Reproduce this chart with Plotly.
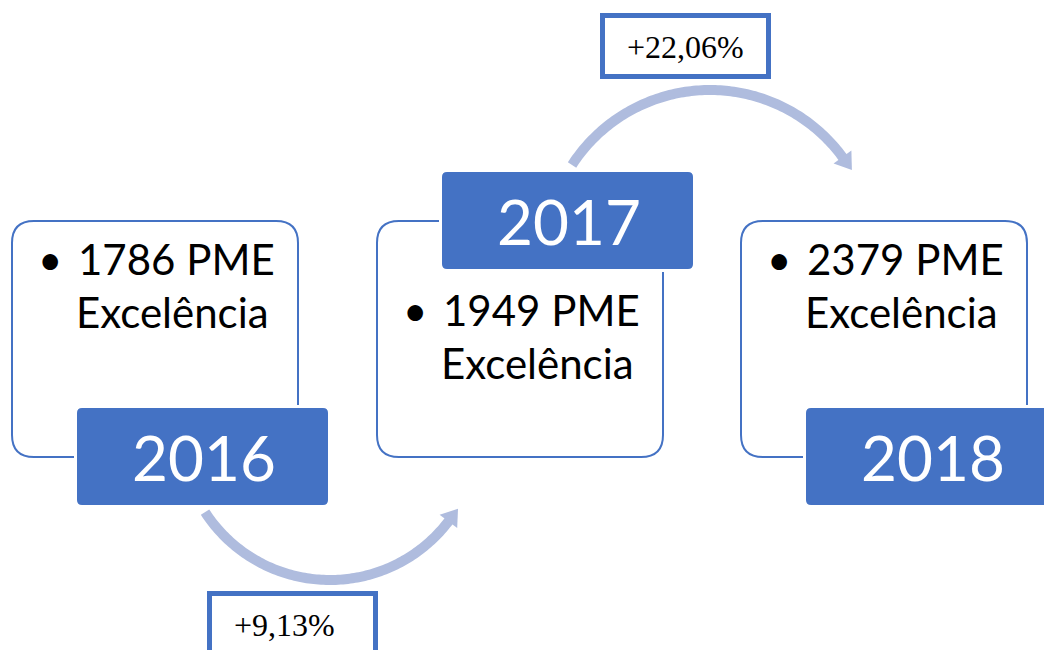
import numpy as np
import plotly.graph_objects as go

# ---- data ----
years = ["2016", "2017", "2018"]
pme_counts = [1786, 1949, 2379]
pme_label = "PME"
pme_suffix = "Excelência"
growth_labels = ["+9,13%", "+22,06%"]

# ---- layout constants ----
W, H = 1044, 650
BLUE = "#4472C4"
ARROW = "rgb(175,188,222)"
box_left = [12, 377, 741]
box_top, box_bot = 221, 457
box_w = 286
tab_w, tab_h, tab_dx = 251, 97, 65
tab_pos = ["bottom", "top", "bottom"]

fig = go.Figure()
shapes = []
annotations = []


def rrect(x0, y0, x1, y1, r):
    return (f"M{x0+r},{y0} L{x1-r},{y0} Q{x1},{y0} {x1},{y0+r} "
            f"L{x1},{y1-r} Q{x1},{y1} {x1-r},{y1} L{x0+r},{y1} "
            f"Q{x0},{y1} {x0},{y1-r} L{x0},{y0+r} Q{x0},{y0} {x0+r},{y0} Z")


def poly(pts):
    return "M" + " L".join(f"{px:.2f},{py:.2f}" for px, py in pts) + " Z"


# ---- curved arrows ----
arrows = [
    dict(c=(330, 431), r=149, a0=147, a1=37),
    dict(c=(710, 254.5), r=164.5, a0=-147, a1=-36),
]
half = 5
for a in arrows:
    th = np.radians(np.linspace(a["a0"], a["a1"], 120))
    cx, cy = a["c"]
    outer = [(cx + (a["r"] + half) * np.cos(t), cy + (a["r"] + half) * np.sin(t)) for t in th]
    inner = [(cx + (a["r"] - half) * np.cos(t), cy + (a["r"] - half) * np.sin(t)) for t in th[::-1]]
    shapes.append(dict(type="path", xref="x", yref="y", path=poly(outer + inner),
                       fillcolor=ARROW, line=dict(width=0), layer="above"))
    t1 = th[-1]
    sgn = np.sign(a["a1"] - a["a0"])
    d = sgn * np.array([-np.sin(t1), np.cos(t1)])
    nrm = np.array([np.cos(t1), np.sin(t1)])
    base = np.array([cx + a["r"] * np.cos(t1), cy + a["r"] * np.sin(t1)]) - 1.0 * d
    tip = base + 16 * d
    w1 = base + 11 * nrm
    w2 = base - 11 * nrm
    shapes.append(dict(type="path", xref="x", yref="y",
                       path=poly([tip, w1, w2]),
                       fillcolor=ARROW, line=dict(width=0), layer="above"))

# ---- boxes ----
for i, (yr, cnt) in enumerate(zip(years, pme_counts)):
    x0 = box_left[i]
    shapes.append(dict(type="path", xref="x", yref="y",
                       path=rrect(x0, box_top, x0 + box_w, box_bot, 22),
                       fillcolor="white", line=dict(color=BLUE, width=2), layer="above"))
    tx0 = x0 + tab_dx
    if tab_pos[i] == "bottom":
        ty0 = box_bot - 49
        text_y = 259
    else:
        ty0 = box_top - 49
        text_y = 310
    ty1 = ty0 + tab_h
    tx1 = tx0 + tab_w
    shapes.append(dict(type="path", xref="x", yref="y",
                       path=rrect(tx0 - 3, ty0 - 3, tx1 + 3, ty1 + 3, 7),
                       fillcolor="white", line=dict(width=0), layer="above"))
    shapes.append(dict(type="path", xref="x", yref="y",
                       path=rrect(tx0, ty0, tx1, ty1, 5),
                       fillcolor=BLUE, line=dict(width=0), layer="above"))
    annotations.append(dict(x=(tx0 + tx1) / 2 + 1.5, y=(ty0 + ty1) / 2, text=yr,
                            xanchor="center", yanchor="middle", showarrow=False,
                            font=dict(family="Lato", size=62, color="white")))
    annotations.append(dict(x=x0 + 38, y=text_y, text="•", xanchor="center", yanchor="middle",
                            showarrow=False, font=dict(family="Lato", size=42, color="black")))
    annotations.append(dict(x=x0 + 64, y=text_y, text=f"{cnt} {pme_label}",
                            xanchor="left", yanchor="middle", showarrow=False,
                            font=dict(family="Lato", size=42, color="black")))
    annotations.append(dict(x=x0 + 62, y=text_y + 53, text=pme_suffix,
                            xanchor="left", yanchor="middle", showarrow=False,
                            font=dict(family="Lato", size=42, color="black")))

# ---- growth label boxes ----
growth_boxes = [(207, 591), (600, 13)]
for lbl, (gx, gy) in zip(growth_labels, growth_boxes):
    shapes.append(dict(type="rect", xref="x", yref="y",
                       x0=gx + 2.5, y0=gy + 2.5, x1=gx + 171 - 2.5, y1=gy + 66 - 2.5,
                       fillcolor="white", line=dict(color=BLUE, width=5), layer="above"))
    annotations.append(dict(x=gx + 25, y=gy + 34, text=lbl, xanchor="left", yanchor="middle",
                            showarrow=False,
                            font=dict(family="Liberation Serif", size=32, color="black")))

fig.update_layout(
    width=W, height=H,
    margin=dict(l=0, r=0, t=0, b=0),
    paper_bgcolor="white", plot_bgcolor="white",
    xaxis=dict(range=[0, W], visible=False, fixedrange=True),
    yaxis=dict(range=[H, 0], visible=False, fixedrange=True),
    shapes=shapes, annotations=annotations, showlegend=False,
)
fig.write_html("out.html", config={"displayModeBar": False},
               post_script="document.body.style.margin='0px';document.body.style.overflow='hidden';")
